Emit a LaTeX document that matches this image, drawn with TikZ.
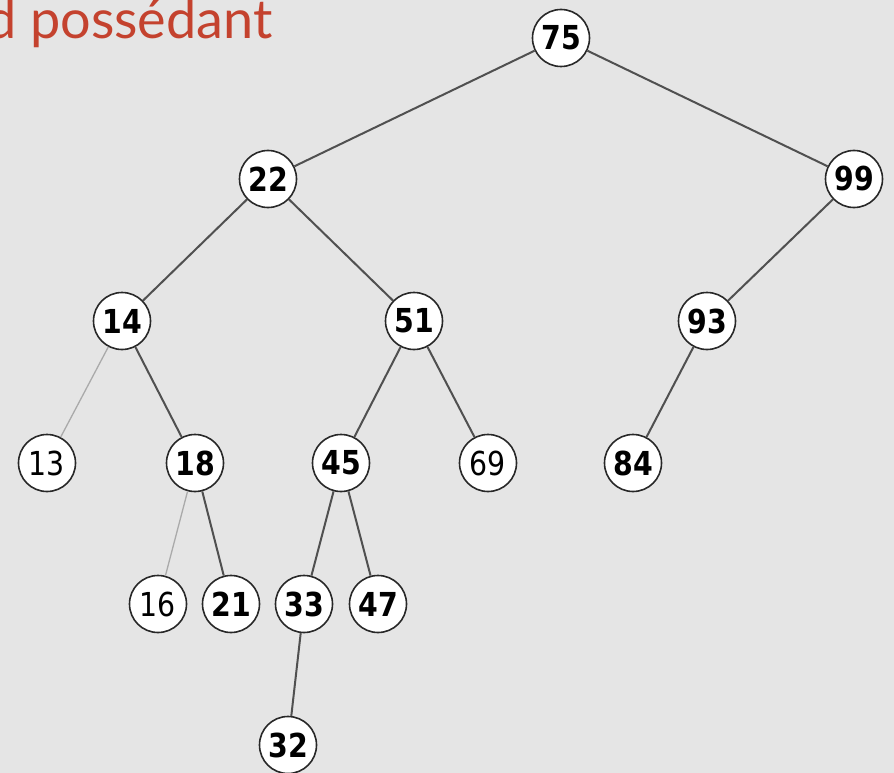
\documentclass[tikz,border=0pt]{standalone}
\usepackage{fontspec}
\newfontfamily\numfont[FakeStretch=0.86]{DejaVu Sans}
\newfontfamily\titlefont{Lato}
\definecolor{bg}{RGB}{229,229,229}
\definecolor{edgec}{RGB}{80,80,80}
\definecolor{lightedge}{RGB}{170,170,170}
\definecolor{titlered}{RGB}{196,66,46}
\definecolor{ringc}{RGB}{40,40,40}
\tikzset{
  nd/.style={circle, draw=ringc, line width=1.6pt, fill=white, minimum size=57pt, inner sep=0pt,
    font=\numfont\fontsize{33}{33}\selectfont\bfseries},
  ndl/.style={nd, font=\numfont\fontsize{33}{33}\selectfont},
  edge/.style={draw=edgec, line width=2pt},
  ledge/.style={draw=lightedge, line width=1.3pt}
}
\begin{document}
\begin{tikzpicture}[x=1pt,y=-1pt]
\path[fill=bg] (0,0) rectangle (894,773);
\useasboundingbox (0,0) rectangle (894,773);
\begin{scope}
\clip (0,0) rectangle (894,773);
\node[anchor=base west, inner sep=0pt, text=titlered, font=\titlefont\fontsize{54}{54}\selectfont] (title) at (-14,39) {d possédant};
\end{scope}
\node[nd] (n75) at (561,38) {75};
\node[nd] (n22) at (268,179) {22};
\node[nd] (n99) at (854,179) {99};
\node[nd] (n14) at (122,321) {14};
\node[nd] (n51) at (414,321) {51};
\node[nd] (n93) at (707,321) {93};
\node[ndl] (n13) at (47,463) {13};
\node[nd] (n18) at (195,463) {18};
\node[nd] (n45) at (341,463) {45};
\node[ndl] (n69) at (488,463) {69};
\node[nd] (n84) at (633,463) {84};
\node[ndl] (n16) at (158,604) {16};
\node[nd] (n21) at (231,604) {21};
\node[nd] (n33) at (304,604) {33};
\node[nd] (n47) at (378,604) {47};
\node[nd] (n32) at (288,745) {32};
\draw[edge] (n75) -- (n22);
\draw[edge] (n75) -- (n99);
\draw[edge] (n22) -- (n14);
\draw[edge] (n22) -- (n51);
\draw[edge] (n99) -- (n93);
\draw[ledge] (n14) -- (n13);
\draw[edge] (n14) -- (n18);
\draw[edge] (n51) -- (n45);
\draw[edge] (n51) -- (n69);
\draw[edge] (n93) -- (n84);
\draw[ledge] (n18) -- (n16);
\draw[edge] (n18) -- (n21);
\draw[edge] (n45) -- (n33);
\draw[edge] (n45) -- (n47);
\draw[edge] (n33) -- (n32);
\end{tikzpicture}
\end{document}
